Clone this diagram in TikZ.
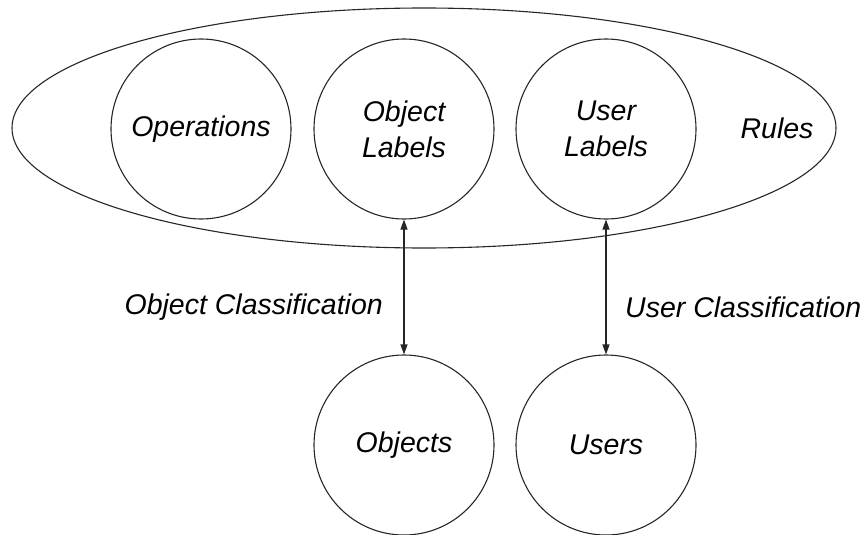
\documentclass[tikz,border=0pt]{standalone}
\usepackage{fontspec}
\setmainfont{Liberation Sans}
\usetikzlibrary{arrows.meta}
\begin{document}
\begin{tikzpicture}[x=1pt,y=-1pt,
  every node/.style={font=\fontsize{28.5}{36}\selectfont\itshape},
  set/.style={circle,draw=black!85,line width=1.1pt,minimum size=180pt,inner sep=0pt,align=center},
  link/.style={draw=black!85,line width=1.1pt,{Triangle[length=10pt,width=7pt]}-{Triangle[length=10pt,width=7pt]}},
  lbl/.style={inner sep=0pt}]
\useasboundingbox (0,0) rectangle (862,535);
% outer rule set
\draw[black!85,line width=1.1pt] (424,128) ellipse [x radius=412, y radius=120];
\node[lbl] (rules) at (777,128) {Rules};
% label and entity sets
\node[set] (ops) at (201,129) {Operations};
\node[set] (olab) at (404,129) {Object\\Labels};
\node[set] (ulab) at (606,129) {User\\Labels};
\node[set] (obj) at (404,445) {Objects};
\node[set] (usr) at (606,445) {Users};
% classification links
\draw[link] (olab) -- (obj);
\draw[link] (ulab) -- (usr);
\node[lbl,anchor=east] (oc) at (383,307) {Object Classification};
\node[lbl,anchor=west] (uc) at (625,307) {User Classification};
\end{tikzpicture}
\end{document}
